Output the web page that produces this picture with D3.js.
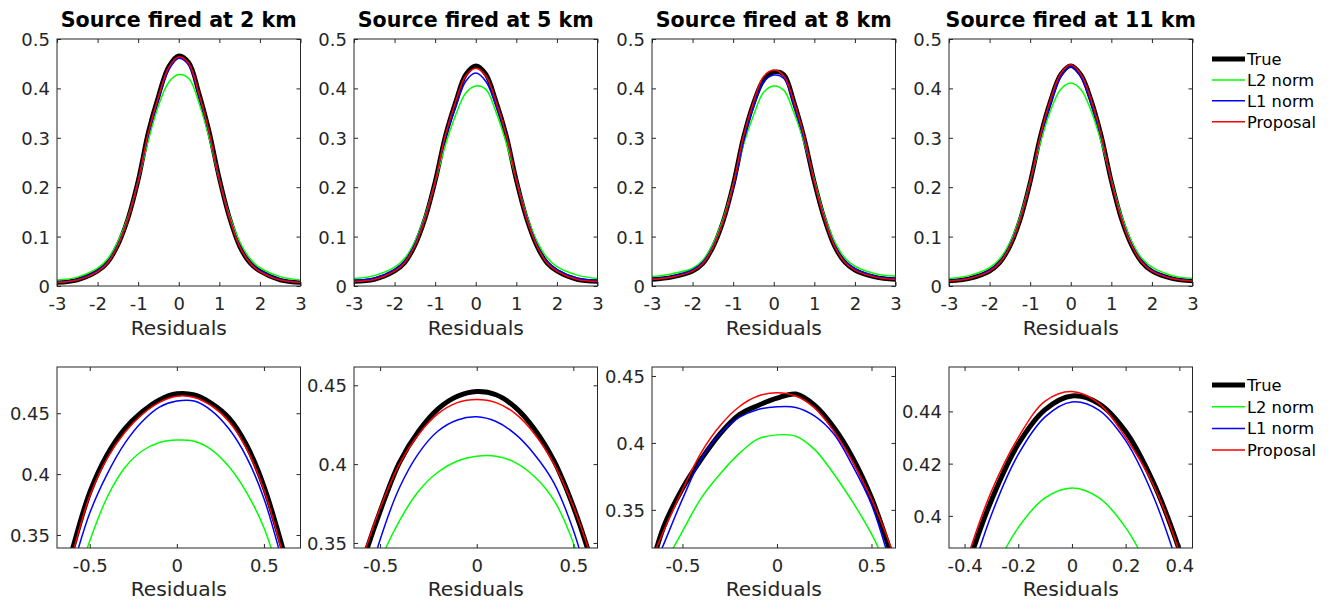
<!DOCTYPE html>
<html>
<head>
<meta charset="utf-8">
<script src="https://cdn.jsdelivr.net/npm/d3@7"></script>
<style>
  body { margin: 0; background: #ffffff; }
  svg { display: block; }
  text { font-family: "DejaVu Sans", sans-serif; fill: #262626; }
  .tick text { font-size: 18px; }
  .title { font-size: 20.6px; font-weight: bold; fill: #000; }
  .xlabel { font-size: 20.3px; }
  .legend text { font-size: 16.3px; fill: #000; }
</style>
</head>
<body>
<svg id="chart" width="1331" height="602"></svg>
<script>
// ---------------- DATA ----------------
const titles = ["Source fired at 2 km", "Source fired at 5 km", "Source fired at 8 km", "Source fired at 11 km"];
const seriesNames = ["True", "L2 norm", "L1 norm", "Proposal"];

// full-range residual grid (top row)
const topX = [-3, -2.5, -2, -1.75, -1.5, -1.25, -1, -0.75, -0.5, -0.25, 0, 0.25, 0.5, 0.75, 1, 1.25, 1.5, 1.75, 2, 2.5, 3];
// 2 km
const true2  = [.007,.012,.030,.048,.083,.137,.214,.312,.385,.444,.466,.452,.390,.313,.218,.138,.080,.047,.030,.012,.007];
const l2_2   = [.012,.018,.036,.055,.090,.140,.212,.295,.365,.412,.428,.420,.370,.300,.215,.143,.090,.056,.037,.019,.012];
const l1_2   = [.008,.013,.031,.049,.084,.137,.212,.306,.378,.437,.461,.447,.384,.309,.216,.139,.082,.049,.031,.013,.008];
const prop2  = [.007,.012,.029,.047,.082,.136,.213,.310,.383,.442,.464,.450,.388,.311,.216,.137,.080,.047,.029,.012,.007];
// 5 km
const true5  = [.009,.013,.030,.047,.082,.136,.212,.304,.372,.428,.446,.429,.374,.306,.214,.137,.082,.047,.030,.013,.009];
const l2_5   = [.015,.021,.038,.056,.090,.142,.210,.285,.345,.390,.405,.398,.352,.290,.215,.145,.092,.058,.039,.022,.015];
const l1_5   = [.011,.016,.033,.050,.085,.138,.212,.300,.360,.414,.431,.414,.365,.306,.216,.140,.085,.050,.033,.016,.011];
const prop5  = [.009,.013,.030,.047,.082,.136,.212,.305,.372,.425,.441,.425,.373,.306,.214,.137,.082,.047,.030,.013,.009];
// 8 km
const true8  = [.013,.018,.030,.045,.078,.130,.205,.300,.370,.417,.433,.428,.372,.300,.210,.135,.080,.048,.032,.018,.013];
const l2_8   = [.019,.025,.036,.052,.085,.135,.205,.285,.345,.392,.405,.396,.350,.290,.215,.142,.090,.057,.040,.025,.020];
const l1_8   = [.015,.020,.033,.048,.080,.130,.200,.290,.362,.413,.427,.420,.365,.296,.210,.137,.083,.051,.035,.020,.015];
const prop8  = [.013,.018,.030,.045,.078,.130,.205,.302,.372,.424,.437,.425,.372,.302,.210,.135,.080,.048,.032,.018,.013];
// 11 km
const true11 = [.010,.015,.030,.047,.080,.133,.210,.303,.375,.428,.446,.428,.377,.305,.212,.135,.082,.048,.030,.015,.010];
const l2_11  = [.015,.021,.037,.055,.088,.140,.212,.290,.355,.398,.411,.398,.355,.292,.215,.143,.090,.056,.038,.021,.015];
const l1_11  = [.011,.016,.032,.049,.082,.135,.210,.300,.368,.423,.444,.424,.370,.302,.212,.137,.084,.050,.032,.016,.011];
const prop11 = [.010,.015,.030,.047,.080,.133,.210,.304,.377,.430,.448,.429,.377,.305,.212,.135,.082,.048,.030,.015,.010];

// peak-detail residual grid (bottom row)
const zoomX = [-0.7, -0.6, -0.5, -0.4, -0.3, -0.2, -0.1, 0, 0.1, 0.2, 0.3, 0.4, 0.5, 0.6, 0.7];
const zTrue2  = [.285,.338,.385,.416,.437,.451,.461,.466,.465,.458,.446,.424,.390,.343,.290];
const zL2_2   = [.250,.300,.345,.381,.405,.419,.426,.428,.427,.420,.406,.385,.356,.312,.262];
const zL1_2   = [.270,.322,.368,.400,.425,.443,.455,.460,.460,.452,.437,.414,.380,.331,.276];
const zProp2  = [.283,.334,.382,.413,.434,.449,.459,.464,.463,.456,.443,.421,.387,.339,.286];

const zTrue5  = [.292,.334,.370,.401,.421,.435,.443,.446,.444,.436,.422,.402,.373,.336,.292];
const zL2_5   = [.255,.296,.338,.364,.383,.395,.402,.405,.405,.401,.392,.377,.350,.308,.260];
const zL1_5   = [.262,.308,.352,.385,.407,.421,.428,.430,.427,.419,.406,.388,.358,.316,.268];
const zProp5  = [.296,.337,.372,.400,.419,.432,.439,.441,.439,.432,.419,.400,.373,.338,.296];

const zTrue8  = [.288,.337,.366,.388,.407,.421,.428,.4334,.4365,.428,.4117,.389,.359,.319,.275];
const zL2_8   = [.280,.308,.334,.359,.377,.392,.403,.406,.405,.395,.377,.356,.332,.302,.270];
const zL1_8   = [.290,.324,.358,.388,.407,.419,.425,.427,.4265,.420,.4068,.383,.354,.310,.262];
const zProp8  = [.300,.334,.365,.393,.413,.427,.435,.4375,.435,.426,.409,.386,.358,.323,.280];

const zTrue11 = [.250,.300,.340,.377,.406,.4275,.4407,.4459,.443,.4323,.4135,.387,.352,.305,.255];
const zL2_11  = [.240,.280,.316,.350,.3765,.3955,.4069,.4107,.407,.3955,.3765,.350,.316,.280,.240];
const zL1_11  = [.240,.290,.330,.3686,.4004,.4235,.4379,.4436,.4405,.4288,.4083,.3791,.342,.300,.250];
const zProp11 = [.250,.300,.343,.3804,.4094,.430,.4439,.4476,.4431,.430,.4125,.386,.345,.300,.250];

// axis ranges and tick labels
const topXDomain = [-3, 3];
const topYDomain = [0, 0.5];
const topXTicks = [-3, -2, -1, 0, 1, 2, 3];
const topYTicks = [0, 0.1, 0.2, 0.3, 0.4, 0.5];
const zoomXDomains = [[-0.688, 0.71], [-0.635, 0.625], [-0.661, 0.627], [-0.458, 0.449]];
const zoomYDomains = [[0.3393, 0.488], [0.3468, 0.4616], [0.3215, 0.4567], [0.3877, 0.457]];
const zoomXTicks = [[-0.5, 0, 0.5], [-0.5, 0, 0.5], [-0.5, 0, 0.5], [-0.4, -0.2, 0, 0.2, 0.4]];
const zoomYTicks = [[0.35, 0.4, 0.45], [0.35, 0.4, 0.45], [0.35, 0.4, 0.45], [0.4, 0.42, 0.44]];
const xLabel = "Residuals";

// ---------------- assemble ----------------
const topSeries = [
  [true2, l2_2, l1_2, prop2],
  [true5, l2_5, l1_5, prop5],
  [true8, l2_8, l1_8, prop8],
  [true11, l2_11, l1_11, prop11]
];
const zoomSeries = [
  [zTrue2, zL2_2, zL1_2, zProp2],
  [zTrue5, zL2_5, zL1_5, zProp5],
  [zTrue8, zL2_8, zL1_8, zProp8],
  [zTrue11, zL2_11, zL1_11, zProp11]
];

const colors = ["#000000", "#00ff00", "#0000ff", "#ff0000"];
const svg = d3.select("#chart");
const defs = svg.append("defs");
const panelLeft = [57, 354, 652, 949];
const panelW = 243.5;
const rows = [{ y: 39, h: 247, labelDy: 49, trueW: 4.5 }, { y: 367, h: 181, labelDy: 48, trueW: 5 }];
const tickLen = 4;

function drawPanel(id, x0, row, xDom, yDom, xTicks, yTicks, xs, series) {
  const y0 = row.y, h = row.h, w = panelW;
  const x = d3.scaleLinear().domain(xDom).range([x0, x0 + w]);
  const y = d3.scaleLinear().domain(yDom).range([y0 + h, y0]);
  const g = svg.append("g");

  defs.append("clipPath").attr("id", id).append("rect")
    .attr("x", x0).attr("y", y0).attr("width", w).attr("height", h);

  const line = d3.line()
    .x((d, i) => x(xs[i]))
    .y(d => y(d))
    .curve(d3.curveCatmullRom.alpha(0.5));

  const lg = g.append("g").attr("clip-path", `url(#${id})`);
  series.forEach((vals, k) => {
    lg.append("path")
      .attr("d", line(vals))
      .attr("fill", "none")
      .attr("stroke", colors[k])
      .attr("stroke-width", k === 0 ? row.trueW : 1.5)
      .attr("stroke-linejoin", "round")
      .attr("stroke-linecap", "round");
  });

  const fmt = d => String(d);
  const ax = g.append("g").attr("color", "#262626");
  ax.append("g").attr("transform", `translate(0,${y0 + h})`)
    .call(d3.axisBottom(x).tickValues(xTicks).tickSizeInner(-tickLen).tickSizeOuter(0).tickFormat(fmt))
    .call(s => { s.select(".domain").remove(); s.attr("font-size", null).attr("font-family", null);
      s.selectAll(".tick text").attr("y", 24).attr("dy", null); });
  ax.append("g").attr("transform", `translate(0,${y0})`)
    .call(d3.axisTop(x).tickValues(xTicks).tickSizeInner(-tickLen).tickSizeOuter(0).tickFormat(""))
    .call(s => s.select(".domain").remove());
  ax.append("g").attr("transform", `translate(${x0},0)`)
    .call(d3.axisLeft(y).tickValues(yTicks).tickSizeInner(-tickLen).tickSizeOuter(0).tickPadding(7).tickFormat(fmt))
    .call(s => { s.select(".domain").remove(); s.attr("font-size", null).attr("font-family", null);
      s.selectAll(".tick text").attr("dy", "0.36em"); });
  ax.append("g").attr("transform", `translate(${x0 + w},0)`)
    .call(d3.axisRight(y).tickValues(yTicks).tickSizeInner(-tickLen).tickSizeOuter(0).tickFormat(""))
    .call(s => s.select(".domain").remove());

  g.append("rect").attr("x", x0).attr("y", y0).attr("width", w).attr("height", h)
    .attr("fill", "none").attr("stroke", "#262626").attr("stroke-width", 1);

  g.append("text").attr("class", "xlabel")
    .attr("x", x0 + w / 2).attr("y", y0 + h + row.labelDy)
    .attr("text-anchor", "middle").text(xLabel);
}

for (let p = 0; p < 4; p++) {
  drawPanel("clipTop" + p, panelLeft[p], rows[0], topXDomain, topYDomain, topXTicks, topYTicks, topX, topSeries[p]);
  drawPanel("clipBot" + p, panelLeft[p], rows[1], zoomXDomains[p], zoomYDomains[p], zoomXTicks[p], zoomYTicks[p], zoomX, zoomSeries[p]);
  svg.append("text").attr("class", "title")
    .attr("x", panelLeft[p] + panelW / 2).attr("y", 27)
    .attr("text-anchor", "middle").text(titles[p]);
}

function legend(yTop, step) {
  const lg = svg.append("g").attr("class", "legend");
  seriesNames.forEach((name, k) => {
    const yy = yTop + k * step;
    lg.append("line").attr("x1", 1212).attr("x2", 1245).attr("y1", yy).attr("y2", yy)
      .attr("stroke", colors[k]).attr("stroke-width", k === 0 ? 5 : 1.5);
    lg.append("text").attr("x", 1247).attr("y", yy).attr("dy", "0.36em").text(name);
  });
}
legend(59, 20.9);
legend(385, 21.7);
</script>
</body>
</html>
